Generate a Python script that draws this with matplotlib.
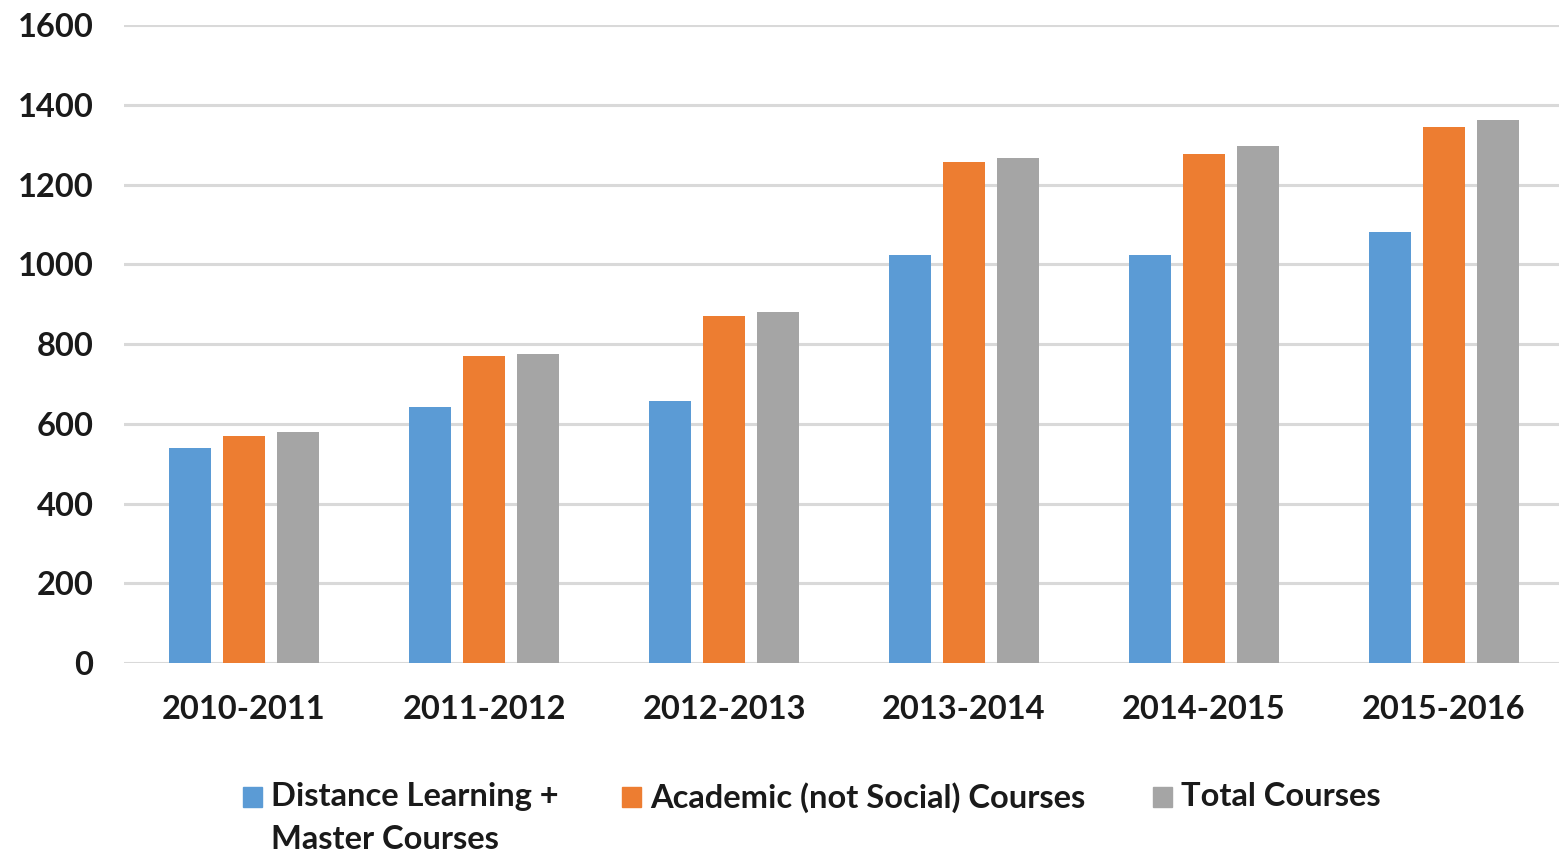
import numpy as np
import matplotlib
matplotlib.use("Agg")
import matplotlib.pyplot as plt
from matplotlib.patches import Rectangle

# ── Data ──────────────────────────────────────────────────────────────
years = ["2010-2011", "2011-2012", "2012-2013", "2013-2014", "2014-2015", "2015-2016"]
distance_master = [540, 642, 657, 1023, 1023, 1081]
academic = [569, 770, 870, 1256, 1276, 1344]
total = [579, 775, 880, 1266, 1296, 1362]

series_labels = ["Distance Learning +\nMaster Courses",
                 "Academic (not Social) Courses",
                 "Total Courses"]
colors = ["#5b9bd5", "#ed7d31", "#a5a5a5"]
text_color = "#1a1a1a"

plt.rcParams["font.family"] = ["Lato", "DejaVu Sans"]
plt.rcParams["font.weight"] = "bold"

fig = plt.figure(figsize=(15.59, 8.55), dpi=100)
ax = fig.add_axes([124 / 1559, 1 - 663 / 855, 1440 / 1559, 638 / 855])

x = np.arange(len(years))
width = 0.175
step = 0.225
for i, (vals, c) in enumerate(zip([distance_master, academic, total], colors)):
    ax.bar(x + (i - 1) * step, vals, width, color=c, zorder=3)

ax.set_xlim(-0.5, len(years) - 0.5)
ax.set_ylim(0, 1600)
ax.set_yticks(range(0, 1601, 200))
ax.set_xticks(x)
ax.set_xticklabels(years)
ax.tick_params(axis="both", length=0, labelsize=23.5, colors=text_color)
ax.tick_params(axis="y", pad=22)
ax.tick_params(axis="x", pad=23)
ax.grid(axis="y", color="#d9d9d9", linewidth=2.2, zorder=0)
for s in ax.spines.values():
    s.set_visible(False)

# ── Legend (drawn by hand so the swatch sits on the first line) ──────
leg_x = [243, 622, 1153]
leg_y = 797
for lx, lab, c in zip(leg_x, series_labels, colors):
    fig.patches.append(Rectangle((lx / 1559, 1 - (leg_y + 10) / 855), 19 / 1559, 20 / 855,
                                 transform=fig.transFigure, color=c))
    fig.text((lx + 28) / 1559, 1 - (leg_y - 15) / 855, lab, fontsize=23.5,
             color=text_color, va="top", ha="left", linespacing=1.6)

fig.savefig("out.png", dpi=100)
